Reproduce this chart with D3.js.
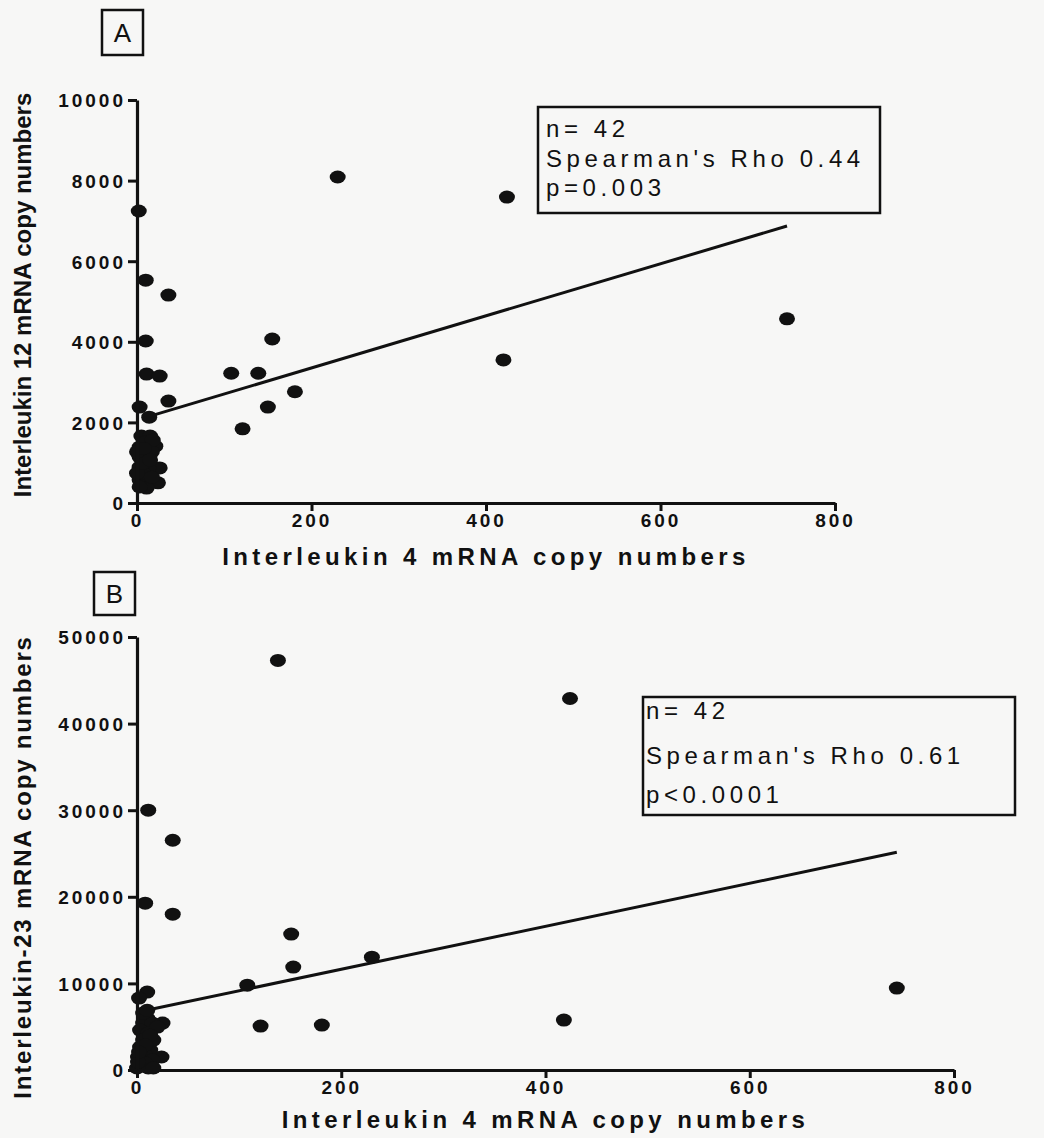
<!DOCTYPE html>
<html>
<head>
<meta charset="utf-8">
<script src="https://cdn.jsdelivr.net/npm/d3@7"></script>
<style>
  html, body { margin: 0; padding: 0; background: #f7f7f6; }
  svg { display: block; }
  .tick text { font-family: "Liberation Sans Narrow", "Arial Narrow", "Liberation Sans", Arial, sans-serif; font-weight: bold; font-size: 19px; letter-spacing: 3px; fill: #111; }
  .axis path, .axis line { stroke: #111; }
  .xtitle { font-family: "Liberation Sans Narrow", "Arial Narrow", "Liberation Sans", Arial, sans-serif; font-weight: bold; font-size: 24px; letter-spacing: 4.4px; fill: #111; }
  .ytitle { font-family: "Liberation Sans", Arial, sans-serif; font-weight: bold; font-size: 24px; fill: #111; }
  .stat { font-family: "Liberation Sans", Arial, sans-serif; font-size: 24px; letter-spacing: 4.6px; fill: #111; }
  .panel { font-family: "Liberation Sans", Arial, sans-serif; font-size: 26px; fill: #111; }
</style>
</head>
<body>
<svg id="chart" width="1044" height="1138"></svg>
<script>
// Interleukin 4 vs Interleukin 12 copy numbers (panel A)
const il4A = [230, 424, 2, 10, 36, 10, 155, 745, 420, 108, 139, 11, 26, 181, 150, 36, 3, 121, 14,
  5, 15, 21, 3, 13, 3, 26, 3, 13, 24, 3, 11, 7, 9, 17, 0, 17, 3, 7, 18, 0, 8, 15];
const il12A = [8090, 7590, 7245, 5530, 5160, 4020, 4070, 4570, 3550, 3220, 3220, 3200, 3150, 2760, 2380, 2530, 2380, 1840, 2130,
  1660, 1660, 1410, 1390, 1140, 1140, 870, 890, 870, 500, 570, 370, 740, 1510, 1270, 740, 640, 400, 990, 1560, 1270, 1350, 1070];

// Interleukin 4 vs Interleukin-23 copy numbers (panel B)
const il4B = [138, 424, 11, 35, 8, 35, 151, 153, 230, 108, 744, 10, 2, 121, 181, 418, 25, 24,
  10, 6, 15, 3, 11, 6, 3, 13, 8, 1, 15, 3, 11, 0, 20, 6, 16, 8, 16, 13, 8, 1, 10, 2];
const il23B = [47290, 42900, 30000, 26530, 19260, 17990, 15690, 11880, 13030, 9800, 9460, 9000, 8300, 5070, 5190, 5770, 5420, 1500,
  6000, 5420, 5420, 4610, 4270, 3460, 2650, 2310, 1730, 1500, 1150, 810, 230, 230, 4960, 6570, 3460, 810, 230, 4000, 2880, 920, 6900, 2080];

// Linear fits: [intercept, slope] and the IL-4 span they cover
const fitA = [2060, 6.46];
const fitSpanA = [12, 745];
const fitB = [6665, 24.83];
const fitSpanB = [1, 744];

// Tick values
const xTicks = [0, 200, 400, 600, 800];
const yTicksA = [0, 2000, 4000, 6000, 8000, 10000];
const yTicksB = [0, 10000, 20000, 30000, 40000, 50000];

// Annotation text
const statsA = ["n= 42", "Spearman's Rho 0.44", "p=0.003"];
const statsB = ["n= 42", "Spearman's Rho 0.61", "p<0.0001"];

const svg = d3.select("#chart");
const ink = "#111";

function drawPanel(cfg) {
  const x = d3.scaleLinear().domain([0, 800]).range(cfg.xRange);
  const y = d3.scaleLinear().domain(cfg.yDomain).range(cfg.yRange);
  const g = svg.append("g");

  // regression line
  const line = d3.line().x(d => x(d)).y(d => y(cfg.fit[0] + cfg.fit[1] * d));
  g.append("path")
    .datum(cfg.fitSpan)
    .attr("d", line)
    .attr("fill", "none")
    .attr("stroke", ink)
    .attr("stroke-width", 3);

  // points
  g.selectAll("ellipse.pt")
    .data(cfg.xs.map((v, i) => [v, cfg.ys[i]]))
    .join("ellipse")
    .attr("class", "pt")
    .attr("cx", d => x(d[0]))
    .attr("cy", d => y(d[1]))
    .attr("rx", 8)
    .attr("ry", 6.5)
    .attr("fill", ink);

  // axes
  const yAxis = d3.axisLeft(y).tickValues(cfg.yTicks).tickSize(9).tickSizeOuter(0).tickPadding(2).tickFormat(d3.format("d"));
  const ya = g.append("g").attr("class", "axis").attr("transform", `translate(${cfg.xRange[0]},0)`).call(yAxis);
  const xAxis = d3.axisBottom(x).tickValues(xTicks).tickSize(8).tickSizeOuter(0).tickPadding(3).tickFormat(d3.format("d"));
  const xa = g.append("g").attr("class", "axis").attr("transform", `translate(0,${cfg.yRange[0]})`).call(xAxis);
  [ya, xa].forEach(a => {
    a.select(".domain").attr("stroke-width", 3.2);
    a.selectAll(".tick line").attr("stroke-width", 3);
  });
  ya.selectAll(".tick text").attr("dy", "0.36em");

  // axis titles
  svg.append("text")
    .attr("class", "xtitle")
    .attr("x", (cfg.xRange[0] + cfg.xRange[1]) / 2)
    .attr("y", cfg.yRange[0] + cfg.xTitleOffset)
    .attr("text-anchor", "middle")
    .text("Interleukin 4 mRNA copy numbers");
  svg.append("text")
    .attr("class", "ytitle")
    .attr("transform", `translate(31,${cfg.yTitleCenter}) rotate(-90)`)
    .attr("text-anchor", "middle")
    .style("letter-spacing", cfg.yTitleSpacing + "px")
    .text(cfg.yTitle);

  // panel letter
  svg.append("rect")
    .attr("x", cfg.letterBox[0]).attr("y", cfg.letterBox[1])
    .attr("width", cfg.letterBox[2]).attr("height", cfg.letterBox[3])
    .attr("fill", "none").attr("stroke", ink).attr("stroke-width", 2.5);
  svg.append("text")
    .attr("class", "panel")
    .attr("x", cfg.letterBox[0] + cfg.letterBox[2] / 2)
    .attr("y", cfg.letterBox[1] + cfg.letterBox[3] / 2 + 9)
    .attr("text-anchor", "middle")
    .text(cfg.letter);

  // statistics box
  const b = cfg.statBox;
  svg.append("rect")
    .attr("x", b[0]).attr("y", b[1]).attr("width", b[2]).attr("height", b[3])
    .attr("fill", "none").attr("stroke", ink).attr("stroke-width", 2.5);
  svg.selectAll(null)
    .data(cfg.stats)
    .join("text")
    .attr("class", "stat")
    .attr("x", b[0] + cfg.statInset)
    .attr("y", (d, i) => cfg.statBaselines[i])
    .text(d => d);
}

drawPanel({
  xs: il4A, ys: il12A,
  xRange: [137, 835], yDomain: [0, 10000], yRange: [503, 100],
  yTicks: yTicksA, fit: fitA, fitSpan: fitSpanA,
  xTitleOffset: 62, yTitleCenter: 295, yTitleSpacing: 0,
  yTitle: "Interleukin 12 mRNA copy numbers",
  letter: "A", letterBox: [102, 10, 41, 45],
  stats: statsA, statBox: [538, 107, 342, 106], statInset: 8, statBaselines: [137, 167, 196]
});

drawPanel({
  xs: il4B, ys: il23B,
  xRange: [137, 954], yDomain: [0, 50000], yRange: [1070, 637],
  yTicks: yTicksB, fit: fitB, fitSpan: fitSpanB,
  xTitleOffset: 58, yTitleCenter: 867, yTitleSpacing: 1.8,
  yTitle: "Interleukin-23 mRNA copy numbers",
  letter: "B", letterBox: [94, 572, 41, 43],
  stats: statsB, statBox: [643, 697, 372, 118], statInset: 3, statBaselines: [719, 764, 803]
});
</script>
</body>
</html>
